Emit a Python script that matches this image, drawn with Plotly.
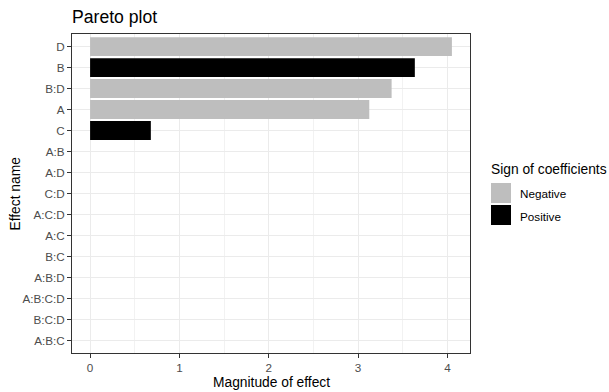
import plotly.graph_objects as go

# Data (top to bottom as shown)
effects = ["D", "B", "B:D", "A", "C", "A:B", "A:D", "C:D", "A:C:D", "A:C",
           "B:C", "A:B:D", "A:B:C:D", "B:C:D", "A:B:C"]
magnitude = [4.05, 3.635, 3.375, 3.125, 0.68, 0, 0, 0, 0, 0, 0, 0, 0, 0, 0]
sign = ["Negative", "Positive", "Negative", "Negative", "Positive",
        "Negative", "Negative", "Negative", "Negative", "Negative",
        "Negative", "Negative", "Negative", "Negative", "Negative"]
sign_levels = ["Negative", "Positive"]
sign_colors = {"Negative": "#BEBEBE", "Positive": "#000000"}
x_ticks = [0, 1, 2, 3, 4]

W, H = 609, 392
L, R, T, B = 72, 470, 34, 353
FONT = "Liberation Sans, Arial, sans-serif"

def px(x):
    return (x - L) / (R - L)

def py(y):
    return (B - y) / (B - T)

fig = go.Figure()
for lvl in sign_levels:
    xs = [m for m, s in zip(magnitude, sign) if s == lvl]
    ys = [e for e, s in zip(effects, sign) if s == lvl]
    fig.add_trace(go.Bar(x=xs, y=ys, orientation="h", name=lvl,
                         marker=dict(color=sign_colors[lvl], line=dict(width=0)),
                         width=0.9, showlegend=False))

xmax = max(magnitude)
pad = 0.05 * xmax
fig.update_layout(
    width=W, height=H,
    margin=dict(l=L, r=W - R, t=T, b=H - B, autoexpand=False),
    plot_bgcolor="white", paper_bgcolor="white",
    font=dict(family=FONT, color="#000000"),
    bargap=0.1,
    title=dict(text="Pareto plot", x=px(72), xref="paper", xanchor="left",
               y=1 - 17 / H, yref="container", yanchor="middle",
               font=dict(size=17.6, color="#000000", family=FONT)),
    xaxis=dict(range=[-pad, xmax + pad], tickvals=x_ticks, showgrid=True,
               gridcolor="#EBEBEB", gridwidth=1.1,
               minor=dict(dtick=0.5, tick0=0, showgrid=True, gridcolor="#F2F2F2", gridwidth=0.6, ticks=""),
               zeroline=False, showline=True, linecolor="#333333", linewidth=1, mirror=True,
               ticks="outside", ticklen=4, tickcolor="#333333", tickwidth=1,
               tickfont=dict(size=11.7, color="#4D4D4D", family=FONT)),
    yaxis=dict(categoryorder="array", categoryarray=effects, type="category",
               range=[len(effects) - 0.4, -0.6], showgrid=True,
               gridcolor="#EBEBEB", gridwidth=1.1, zeroline=False,
               showline=True, linecolor="#333333", linewidth=1, mirror=True,
               ticks="outside", ticklen=4, tickcolor="#333333", tickwidth=1,
               tickfont=dict(size=11.7, color="#4D4D4D", family=FONT)),
)

ann = [
    dict(text="Magnitude of effect", x=0.5, y=py(382), xref="paper", yref="paper",
         showarrow=False, xanchor="center", yanchor="middle",
         font=dict(size=13.8, color="#000000", family=FONT)),
    dict(text="Effect name", x=px(15), y=0.5, xref="paper", yref="paper", textangle=-90,
         showarrow=False, xanchor="center", yanchor="middle",
         font=dict(size=13.8, color="#000000", family=FONT)),
    dict(text="Sign of coefficients", x=px(489), y=py(169), xref="paper", yref="paper",
         showarrow=False, xanchor="left", yanchor="middle",
         font=dict(size=13.8, color="#000000", family=FONT)),
]
shapes = []
key_tops = [183, 205]
for lvl, top in zip(sign_levels, key_tops):
    shapes.append(dict(type="rect", xref="paper", yref="paper",
                       x0=px(491), x1=px(511), y0=py(top + 20), y1=py(top),
                       fillcolor=sign_colors[lvl], line=dict(width=0)))
    ann.append(dict(text=lvl, x=px(518), y=py(top + 11), xref="paper", yref="paper",
                    showarrow=False, xanchor="left", yanchor="middle",
                    font=dict(size=11.7, color="#000000", family=FONT)))
fig.update_layout(annotations=ann, shapes=shapes)

fig.write_html("out.html", config={"displayModeBar": False},
               post_script="document.body.style.margin='0px';")
